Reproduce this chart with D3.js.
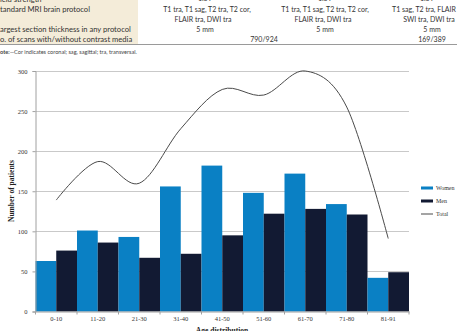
<!DOCTYPE html>
<html>
<head>
<meta charset="utf-8">
<script src="https://cdn.jsdelivr.net/npm/d3@7"></script>
<style>
  body { margin: 0; background: #fff; }
  svg { display: block; }
</style>
</head>
<body>
<div id="chart"></div>
<script>
// age groups on the x axis
const categories = ["0-10", "11-20", "21-30", "31-40", "41-50", "51-60", "61-70", "71-80", "81-91"];
const women = [63, 101, 93, 156, 182, 148, 172, 134, 42];
const men = [76, 86, 67, 72, 95, 122, 128, 121, 49];
const total = [139, 187, 160, 228, 277, 270, 300, 255, 91];
const yTicks = [0, 50, 100, 150, 200, 250, 300];
const series = ["Women", "Men"];

// table fragment above the figure
const rowLabels = [
  ["ield strength", -1],
  ["tandard MRI brain protocol", 9],
  ["argest section thickness in any protocol", 29.5],
  ["o. of scans with/without contrast media", 39.5]
];
const tableCells = [
  ["1.5T", 205, -1.5], ["1.5T", 325, -1.5], ["1.5T", 427, -1.5],
  ["T1 tra, T1 sag, T2 tra, T2 cor,", 207, 9.5],
  ["FLAIR tra, DWI tra", 203, 19.5],
  ["5 mm", 205, 29.5],
  ["T1 tra, T1 sag, T2 tra, T2 cor,", 325, 9.5],
  ["FLAIR tra, DWI tra", 323, 19.5],
  ["5 mm", 325, 29.5],
  ["T1 sag, T2 tra, FLAIR", 424, 9.5],
  ["SWI tra, DWI tra", 429, 19.5],
  ["5 mm", 432, 29.5],
  ["790/924", 264, 39.5],
  ["169/389", 432, 39.5]
];

const W = 457, H = 331;
const colors = { Women: "#0a80c4", Men: "#121a33", Total: "#4a4a4a" };

const svg = d3.select("#chart").append("svg")
  .attr("width", W).attr("height", H);

// ---- table header area
svg.append("rect")
  .attr("x", 0).attr("y", 0).attr("width", 138).attr("height", 44)
  .attr("fill", "#f4ecd9");

const tfont = "Lato, 'Open Sans', sans-serif";
svg.selectAll("text.rowlab")
  .data(rowLabels)
  .enter().append("text")
  .attr("class", "rowlab")
  .attr("x", 0).attr("y", d => d[1])
  .attr("dy", "0.35em")
  .attr("font-family", tfont).attr("font-size", 7.6)
  .attr("fill", "#333")
  .text(d => d[0]);

svg.selectAll("text.cell")
  .data(tableCells)
  .enter().append("text")
  .attr("class", "cell")
  .attr("x", d => d[1]).attr("y", d => d[2])
  .attr("dy", "0.35em")
  .attr("text-anchor", "middle")
  .attr("font-family", tfont).attr("font-size", 7)
  .attr("fill", "#333")
  .text(d => d[0]);

svg.append("line")
  .attr("x1", 0).attr("x2", W).attr("y1", 44.5).attr("y2", 44.5)
  .attr("stroke", "#9a9a9a").attr("stroke-width", 1);

const note = svg.append("text")
  .attr("x", 0).attr("y", 52.5)
  .attr("dy", "0.35em")
  .attr("font-family", tfont).attr("font-size", 5.6)
  .attr("fill", "#444");
note.append("tspan").attr("font-weight", "bold").text("ote:");
note.append("tspan").text("\u2014Cor indicates coronal; sag, sagittal; tra, transversal.");

// ---- chart
const x = d3.scaleBand().domain(categories).range([35.5, 409]).padding(0);
const xs = d3.scaleBand().domain(series).range([0, x.bandwidth()]).padding(0);
const y = d3.scaleLinear().domain([0, 300]).range([311.5, 71]);

const cfont = "'Liberation Serif', 'DejaVu Serif', serif";

// gridlines
svg.append("g")
  .selectAll("line")
  .data(yTicks.filter(t => t > 0))
  .enter().append("line")
  .attr("x1", 35.5).attr("x2", 409)
  .attr("y1", d => Math.round(y(d)) + 0.5).attr("y2", d => Math.round(y(d)) + 0.5)
  .attr("stroke", "#c9c9c9").attr("stroke-width", 1);

// bars
const rows = categories.map((c, i) => ({ cat: c, Women: women[i], Men: men[i] }));
svg.append("g")
  .selectAll("g")
  .data(rows)
  .enter().append("g")
  .attr("transform", d => `translate(${x(d.cat)},0)`)
  .selectAll("rect")
  .data(d => series.map(s => ({ key: s, value: d[s] })))
  .enter().append("rect")
  .attr("x", d => xs(d.key))
  .attr("width", xs.bandwidth())
  .attr("y", d => y(d.value))
  .attr("height", d => y(0) - y(d.value))
  .attr("fill", d => colors[d.key]);

// total line
const line = d3.line()
  .x((d, i) => x(categories[i]) + x.bandwidth() / 2)
  .y(d => y(d))
  .curve(d3.curveCatmullRom.alpha(0));
svg.append("path")
  .datum(total)
  .attr("fill", "none")
  .attr("stroke", colors.Total)
  .attr("stroke-width", 1)
  .attr("d", line);

// y axis
const yAxis = svg.append("g")
  .attr("transform", "translate(35.5,0)")
  .call(d3.axisLeft(y).tickValues(yTicks).tickSize(3).tickPadding(5));
yAxis.select(".domain").attr("stroke", "#a0a0a0");
yAxis.selectAll(".tick line").attr("stroke", "#a0a0a0");
yAxis.selectAll("text").attr("font-family", cfont).attr("font-size", 6.5).attr("fill", "#333");

// x axis
const xAxis = svg.append("g")
  .attr("transform", `translate(0,${y(0)})`)
  .call(d3.axisBottom(x).tickSize(0).tickPadding(5));
xAxis.select(".domain").attr("stroke", "#a0a0a0");
xAxis.selectAll("text").attr("font-family", cfont).attr("font-size", 6.5).attr("fill", "#333");
xAxis.selectAll("line.sep")
  .data(d3.range(categories.length + 1))
  .enter().append("line")
  .attr("class", "sep")
  .attr("x1", i => 35.5 + i * x.step()).attr("x2", i => 35.5 + i * x.step())
  .attr("y1", 0).attr("y2", 3)
  .attr("stroke", "#a0a0a0");

// axis titles
svg.append("text")
  .attr("transform", `translate(11,191) rotate(-90)`)
  .attr("text-anchor", "middle")
  .attr("dy", "0.35em")
  .attr("font-family", cfont).attr("font-size", 7.5).attr("font-weight", "bold")
  .attr("fill", "#222")
  .text("Number of patients");

svg.append("text")
  .attr("x", 222).attr("y", 333)
  .attr("text-anchor", "middle")
  .attr("font-family", cfont).attr("font-size", 7.5).attr("font-weight", "bold")
  .attr("fill", "#222")
  .text("Age distribution");

// legend
const legend = [
  { key: "Women", y: 188, h: 3 },
  { key: "Men", y: 201, h: 3 },
  { key: "Total", y: 214, h: 1 }
];
const lg = svg.append("g").selectAll("g")
  .data(legend).enter().append("g");
lg.append("rect")
  .attr("x", 421).attr("width", 12)
  .attr("y", d => d.y - d.h / 2).attr("height", d => d.h)
  .attr("fill", d => colors[d.key]);
lg.append("text")
  .attr("x", 436).attr("y", d => d.y)
  .attr("dy", "0.35em")
  .attr("font-family", cfont).attr("font-size", 6)
  .attr("fill", "#333")
  .text(d => d.key);
</script>
</body>
</html>
